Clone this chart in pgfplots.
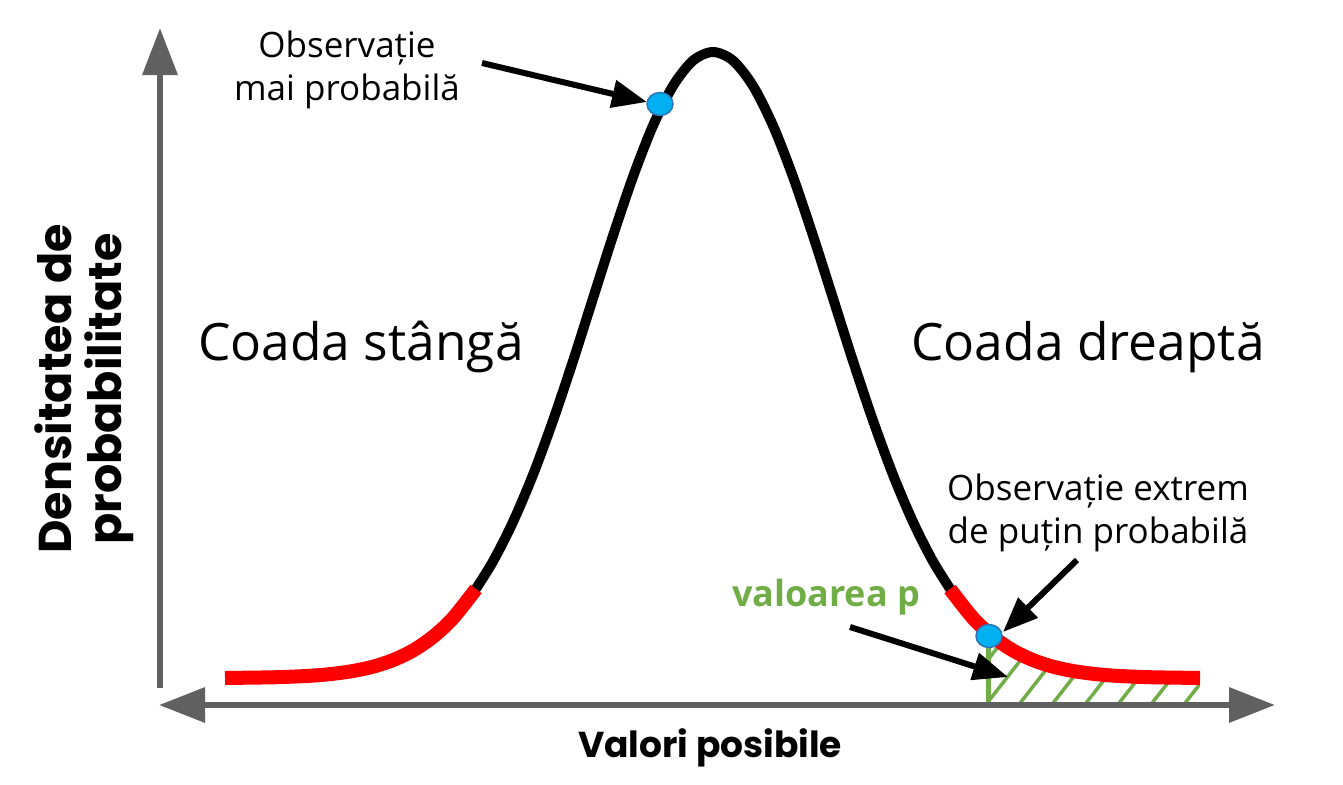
\documentclass[border=0pt]{standalone}
\usepackage{fontspec}
\setmainfont{Open Sans}
\newfontfamily\poppins{Poppins}
\usepackage{pgfplots}
\pgfplotsset{compat=1.18}
\usetikzlibrary{arrows.meta,patterns.meta}

\definecolor{axgray}{HTML}{606060}
\definecolor{tailred}{HTML}{FF0000}
\definecolor{dotblue}{HTML}{00B0F0}
\definecolor{dotedge}{HTML}{2E75B6}
\definecolor{pgreen}{HTML}{70AD47}

\begin{document}
\begin{tikzpicture}
\begin{axis}[
    scale only axis,
    width=1343pt, height=784pt,
    xmin=0, xmax=1343, ymin=0, ymax=784,
    y dir=reverse,      % work in picture rows, top = 0
    axis lines=none, ticks=none,
    clip=false,
]
\path (axis cs:0,0) rectangle (axis cs:1343,784);

% hatched p-value area under the right tail
\addplot[draw=none, pattern={Lines[angle=52, distance=26pt, line width=3.5pt]}, pattern color=pgreen]
coordinates {
    (988,703) (988,632.7) (1000,642.1) (1020,654.3) (1040,662.7) (1060,668.4)
    (1080,672.2) (1100,674.5) (1130,676.5) (1160,677.4) (1200,678) (1200,703)
};
\addplot[pgreen, line width=5pt] coordinates {(988,636) (988,703)};

% central part of the density
\addplot[black, line width=10pt, smooth] coordinates {
    (473,593.3) (493,561.4) (513,521.9) (533,474.8) (553,420.6) (573,361.1)
    (593,298.3) (613,235.7) (633,176.8) (653,125.6) (673,85.9) (693,60.6)
    (713,52) (733,60.6) (753,85.9) (773,125.6) (793,176.8) (813,235.7)
    (833,298.3) (853,361.1) (873,420.6) (893,474.8) (913,521.9) (933,561.4)
    (953,593.3)
};

% tails
\addplot[tailred, line width=14pt, line cap=butt, smooth] coordinates {
    (225,678) (253,677.6) (273,677.3) (293,676.6) (313,675.6) (333,673.8)
    (353,671.0) (373,666.7) (393,660.1) (413,650.5) (433,636.8) (453,618.1)
    (476,589.0)
};
\addplot[tailred, line width=14pt, line cap=butt, smooth] coordinates {
    (950,589.0) (973,618.1) (993,636.8) (1013,650.5) (1033,660.1) (1053,666.7)
    (1073,671.0) (1093,673.8) (1113,675.6) (1133,676.6) (1153,677.3) (1173,677.6)
    (1200,678)
};

% observations
\addplot[only marks, mark=*, mark size=11.5pt,
    mark options={fill=dotblue, draw=dotedge, line width=1.5pt, xscale=1.13}]
coordinates {(660,104) (989,636)};

% axes
\draw[axgray, line width=6.5pt, -{Triangle[length=47pt, width=34pt]}]
    (axis cs:160,688) -- (axis cs:160,28);
\draw[axgray, line width=6.5pt, {Triangle[length=46pt, width=34pt]}-{Triangle[length=46pt, width=34pt]}]
    (axis cs:159,705) -- (axis cs:1275,705);

% annotation arrows
\draw[black, line width=6pt, -{Triangle[length=35pt, width=27pt]}]
    (axis cs:482,63) -- (axis cs:647,102);
\draw[black, line width=6pt, -{Triangle[length=35pt, width=27pt]}]
    (axis cs:1077,560) -- (axis cs:1003,632);
\draw[black, line width=6pt, -{Triangle[length=35pt, width=27pt]}]
    (axis cs:850,627) -- (axis cs:1008,677);

% texts
\node[align=center, font=\fontsize{35}{43}\selectfont] at (axis cs:347,70)
    {Observație\\mai probabilă};
\node[align=center, font=\fontsize{35}{43}\selectfont] at (axis cs:1098,513)
    {Observație extrem\\de puțin probabilă};
\node[font=\fontsize{51.5}{60}\selectfont] at (axis cs:361,347) {Coada stângă};
\node[font=\fontsize{51.5}{60}\selectfont] at (axis cs:1088,347) {Coada dreaptă};
\node[anchor=base, text=pgreen, font=\fontsize{36}{40}\selectfont\bfseries] at (axis cs:826,606) {valoarea p};
\node[anchor=base, font=\poppins\bfseries\fontsize{36}{40}\selectfont] at (axis cs:710,757) {Valori posibile};
\node[rotate=90, align=center, font=\poppins\bfseries\fontsize{46}{50}\selectfont] at (axis cs:84,389)
    {Densitatea de\\probabilitate};
\end{axis}
\end{tikzpicture}
\end{document}
